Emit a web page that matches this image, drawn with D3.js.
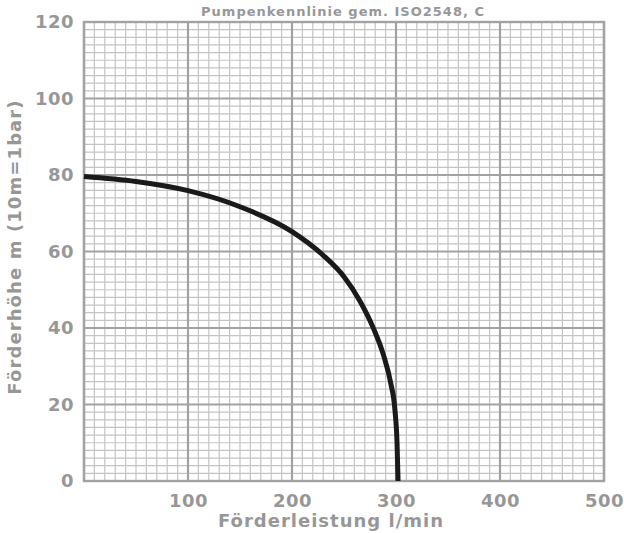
<!DOCTYPE html>
<html>
<head>
<meta charset="utf-8">
<script src="https://cdn.jsdelivr.net/npm/d3@7"></script>
<style>
  body { margin: 0; background: #fff; }
</style>
</head>
<body>
<svg id="chart" width="624" height="533"></svg>
<script>
const flow = [0, 50, 100, 150, 200, 230, 250, 265, 278, 288, 295, 299, 301, 302];
const head = [79.6, 78.3, 75.9, 71.7, 65.2, 59.0, 53.4, 47.2, 40.1, 32.9, 25.5, 18.5, 10, 0];
const xTicks = [100, 200, 300, 400, 500];
const yTicks = [0, 20, 40, 60, 80, 100, 120];
const title = "Pumpenkennlinie gem. ISO2548, C";
const xAxisLabel = "Förderleistung l/min";
const yAxisLabel = "Förderhöhe m (10m=1bar)";

const font = "'DejaVu Sans', Verdana, sans-serif";
const textColor = "#979797";

const margin = { left: 84, top: 22, right: 20, bottom: 52 };
const width = 624;
const height = 533;
const chartWidth = width - margin.left - margin.right;
const chartHeight = height - margin.top - margin.bottom;

const svg = d3.select("#chart");
const g = svg.append("g").attr("transform", `translate(${margin.left} ${margin.top})`);

const x = d3.scaleLinear().domain([0, 500]).range([0, chartWidth]);
const y = d3.scaleLinear().domain([0, 120]).range([chartHeight, 0]);

// minor grid
g.append("g")
  .selectAll("line")
  .data(d3.range(0, 501, 10))
  .join("line")
  .attr("x1", (d) => x(d)).attr("x2", (d) => x(d))
  .attr("y1", 0).attr("y2", chartHeight)
  .attr("stroke", "#c4c4c4").attr("stroke-width", 1.2);

g.append("g")
  .selectAll("line")
  .data(d3.range(0, 121, 2))
  .join("line")
  .attr("y1", (d) => y(d)).attr("y2", (d) => y(d))
  .attr("x1", 0).attr("x2", chartWidth)
  .attr("stroke", "#c4c4c4").attr("stroke-width", 1.2);

// major grid
g.append("g")
  .selectAll("line")
  .data(d3.range(0, 501, 100))
  .join("line")
  .attr("x1", (d) => x(d)).attr("x2", (d) => x(d))
  .attr("y1", 0).attr("y2", chartHeight)
  .attr("stroke", "#a2a2a2").attr("stroke-width", 2.2);

g.append("g")
  .selectAll("line")
  .data(yTicks)
  .join("line")
  .attr("y1", (d) => y(d)).attr("y2", (d) => y(d))
  .attr("x1", 0).attr("x2", chartWidth)
  .attr("stroke", "#a2a2a2").attr("stroke-width", 2.2);

g.append("rect")
  .attr("width", chartWidth).attr("height", chartHeight)
  .attr("fill", "none").attr("stroke", "#a2a2a2").attr("stroke-width", 2.4);

// tick labels
const xAxisG = g.append("g")
  .attr("transform", `translate(0, ${chartHeight})`)
  .call(d3.axisBottom(x).tickValues(xTicks).tickSize(0).tickPadding(12));
xAxisG.select(".domain").remove();
xAxisG.attr("font-family", font).attr("font-size", 18).attr("font-weight", "bold");
xAxisG.selectAll("text").attr("fill", textColor).attr("dy", "0.75em").attr("letter-spacing", 0.5);

const yAxisG = g.append("g")
  .call(d3.axisLeft(y).tickValues(yTicks).tickSize(0).tickPadding(10));
yAxisG.select(".domain").remove();
yAxisG.attr("font-family", font).attr("font-size", 18).attr("font-weight", "bold");
yAxisG.selectAll("text").attr("fill", textColor).attr("letter-spacing", 0.5);

const line = d3.line()
  .x((d, i) => x(flow[i]))
  .y((d) => y(d))
  .curve(d3.curveMonotoneX);

g.append("path")
  .attr("d", line(head))
  .attr("fill", "none")
  .attr("stroke", "#1a1a1a")
  .attr("stroke-width", 5)
  .attr("stroke-linejoin", "round");

const labels = svg.append("g")
  .attr("font-family", font)
  .attr("font-weight", "bold")
  .attr("fill", textColor)
  .attr("text-anchor", "middle");

labels.append("text")
  .attr("x", 343)
  .attr("y", 16)
  .attr("font-size", 13)
  .attr("letter-spacing", 1)
  .text(title);

labels.append("text")
  .attr("x", 331)
  .attr("y", 527)
  .attr("font-size", 18)
  .attr("letter-spacing", 1)
  .text(xAxisLabel);

labels.append("text")
  .attr("transform", `translate(21, 247) rotate(-90)`)
  .attr("font-size", 18)
  .attr("letter-spacing", 1.1)
  .text(yAxisLabel);
</script>
</body>
</html>
